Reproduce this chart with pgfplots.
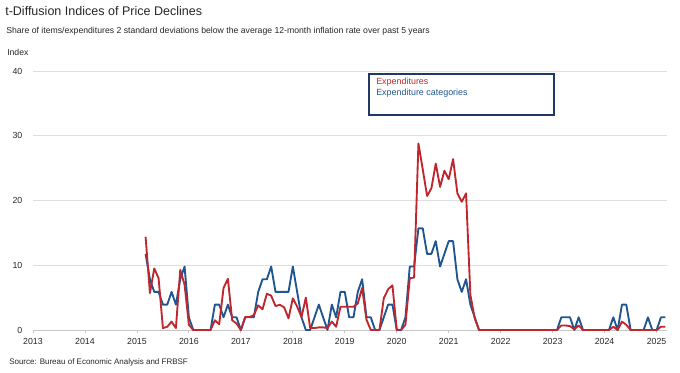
\documentclass[border=0pt]{standalone}
\usepackage{fontspec}
\setmainfont{Liberation Sans}
\usepackage{pgfplots}
\pgfplotsset{compat=1.18}
\usepackage{pgfplotstable}
\definecolor{fredred}{RGB}{192,39,45}
\definecolor{fredblue}{RGB}{31,86,146}
\definecolor{legframe}{RGB}{32,56,100}
\definecolor{gridgray}{RGB}{222,222,222}

% m = months since Jan 2013
\pgfplotstableread{
m val
26 11.76
27 7.84
28 5.88
29 5.88
30 3.92
31 3.92
32 5.88
33 3.92
34 7.84
35 9.80
36 1.96
37 0
38 0
39 0
40 0
41 0
42 3.92
43 3.92
44 1.96
45 3.92
46 1.96
47 1.96
48 0
49 1.96
50 1.96
51 1.96
52 5.88
53 7.84
54 7.84
55 9.80
56 5.88
57 5.88
58 5.88
59 5.88
60 9.80
61 5.88
62 1.96
63 0
64 0
65 1.96
66 3.92
67 1.96
68 0
69 3.92
70 1.96
71 5.88
72 5.88
73 1.96
74 1.96
75 5.88
76 7.84
77 1.96
78 1.96
79 0
80 0
81 1.96
82 3.92
83 3.92
84 0
85 0
86 1.96
87 9.80
88 9.80
89 15.69
90 15.69
91 11.76
92 11.76
93 13.73
94 9.80
95 11.76
96 13.73
97 13.73
98 7.84
99 5.88
100 7.84
101 3.92
102 1.96
103 0
104 0
105 0
106 0
107 0
108 0
109 0
110 0
111 0
112 0
113 0
114 0
115 0
116 0
117 0
118 0
119 0
120 0
121 0
122 1.96
123 1.96
124 1.96
125 0
126 1.96
127 0
128 0
129 0
130 0
131 0
132 0
133 0
134 1.96
135 0
136 3.92
137 3.92
138 0
139 0
140 0
141 0
142 1.96
143 0
144 0
145 1.96
146 1.96
}\bluedata

\pgfplotstableread{
m val
26 14.4
27 5.7
28 9.5
29 8.0
30 0.3
31 0.5
32 1.3
33 0.3
34 9.3
35 7.0
36 0.8
37 0
38 0
39 0
40 0
41 0
42 1.5
43 0.9
44 6.5
45 7.9
46 1.5
47 1.0
48 0
49 2.0
50 2.0
51 2.3
52 3.8
53 3.2
54 5.6
55 5.3
56 3.7
57 3.9
58 3.5
59 1.8
60 4.9
61 3.6
62 2.0
63 5.0
64 0.3
65 0.3
66 0.4
67 0.4
68 0.3
69 1.3
70 0.5
71 3.6
72 3.6
73 3.6
74 3.6
75 4.1
76 6.5
77 1.6
78 0
79 0
80 0
81 4.9
82 6.3
83 6.9
84 0
85 0
86 0.8
87 8.0
88 8.1
89 28.8
90 24.8
91 20.7
92 21.9
93 25.7
94 22.1
95 24.6
96 23.3
97 26.4
98 21.1
99 19.8
100 21.1
101 5.4
102 1.8
103 0
104 0
105 0
106 0
107 0
108 0
109 0
110 0
111 0
112 0
113 0
114 0
115 0
116 0
117 0
118 0
119 0
120 0
121 0
122 0.7
123 0.7
124 0.6
125 0.1
126 0.7
127 0
128 0
129 0
130 0
131 0
132 0
133 0
134 0.5
135 0
136 1.3
137 0.8
138 0
139 0
140 0
141 0
142 0
143 0
144 0
145 0.5
146 0.5
}\reddata

\begin{document}
\begin{tikzpicture}
\path[use as bounding box] (-24.75pt,-31.5pt) rectangle (485.25pt,247.5pt);
\begin{axis}[
  at={(0,0)}, anchor=south west,
  scale only axis,
  width=475.5pt, height=194.25pt,
  xmin=2013, xmax=2025.2,
  ymin=0, ymax=40,
  clip=false,
  axis x line*=bottom,
  axis y line*=left,
  x axis line style={draw=gray!45, line width=0.6pt, -},
  y axis line style={draw=none},
  xtick={2013,2014,...,2025},
  ytick={0,10,20,30,40},
  xticklabel style={/pgf/number format/1000 sep={}, text=black!85},
  yticklabel style={text=black!85},
  /pgf/number format/assume math mode=true,
  ticklabel style={font=\fontsize{6.6}{8}\selectfont},
  tick align=outside,
  major tick length=2.5pt,
  xtick style={draw=gray!45, line width=0.6pt},
  ytick style={draw=none},
  ymajorgrids,
  grid style={draw=gridgray, line width=0.7pt},
  yticklabel shift=2pt,
]
\addplot[fredblue, line width=1.4pt, line join=round] table[x expr=2013+\thisrow{m}/12, y=val] {\bluedata};
\addplot[fredred, line width=1.4pt, line join=round] table[x expr=2013+\thisrow{m}/12, y=val] {\reddata};
\end{axis}
\begin{scope}[shift={(-24.75pt,247.5pt)}, x=0.75pt, y=-0.75pt]
\node[anchor=west, inner sep=0pt, font=\fontsize{9.4}{11}\selectfont, text=black!85] at (5,11) {t-Diffusion Indices of Price Declines};
\node[anchor=west, inner sep=0pt, font=\fontsize{6.5}{8}\selectfont, text=black!85] at (6,31) {Share of items/expenditures 2 standard deviations below the average 12-month inflation rate over past 5 years};
\node[anchor=west, inner sep=0pt, font=\fontsize{6.5}{8}\selectfont, text=black!85] at (7,52) {Index};
\node[anchor=west, inner sep=0pt, font=\fontsize{6}{7}\selectfont, text=black!85] at (9,362) {Source: Bureau of Economic Analysis and FRBSF};
\draw[legframe, line width=0.9pt] (369,74) rectangle (554,115);
\node[anchor=west, inner sep=0pt, font=\fontsize{6.7}{8}\selectfont, text=fredred] at (376,82.5) {Expenditures};
\node[anchor=west, inner sep=0pt, font=\fontsize{6.7}{8}\selectfont, text=fredblue] at (376,93) {Expenditure categories};
\end{scope}
\end{tikzpicture}
\end{document}
